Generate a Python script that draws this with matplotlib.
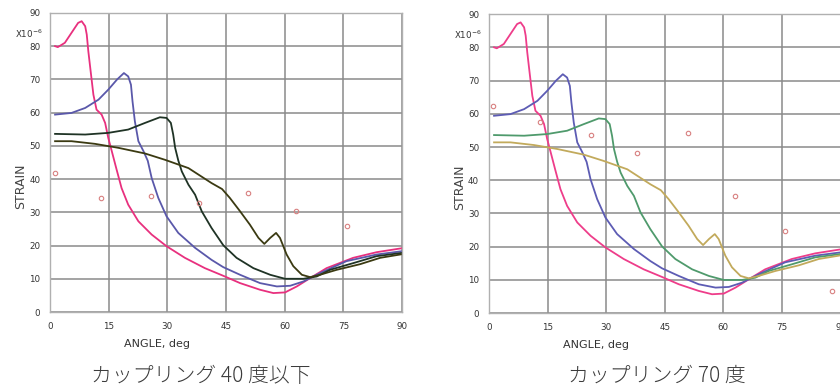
import numpy as np
import matplotlib
matplotlib.use('Agg')
import matplotlib.pyplot as plt
from matplotlib import font_manager

# Curve data (angle in deg, strain x1e-6)
pink_x = [1.3, 2.0, 3.8, 5.5, 7.2, 8.1, 9.0, 9.4, 9.8, 10.5, 11.1, 11.9, 13.2, 14.1, 14.9, 15.8,
          17.0, 18.3, 20.0, 22.6, 26.0, 29.8, 34.5, 39.6, 44.3, 48.6, 53.7, 57.1, 60.1, 63.1,
          66.5, 70.7, 77.5, 83.5, 90.0]
pink_y = [80.0, 79.7, 81.0, 84.0, 87.0, 87.5, 86.0, 83.5, 78.5, 71.4, 65.4, 60.9, 59.4, 56.9, 52.4, 48.4,
          43.0, 37.3, 32.3, 27.3, 23.3, 19.8, 16.3, 13.2, 10.9, 8.7, 6.7, 5.7, 5.9, 7.7,
          10.2, 13.2, 16.3, 18.0, 19.2]

blue_x = [1.3, 5.5, 9.0, 12.4, 14.9, 17.1, 18.9, 20.0, 20.7, 21.1, 21.7, 22.6, 23.9, 25.0,
          26.0, 27.7, 29.8, 32.8, 37.1, 41.3, 44.3, 48.6, 53.7, 58.0, 61.4, 64.8, 69.0, 75.8,
          83.5, 90.0]
blue_y = [59.4, 59.9, 61.4, 63.9, 66.9, 69.9, 71.9, 70.9, 68.4, 63.4, 57.4, 51.4, 48.4, 45.5,
          40.3, 34.3, 28.8, 23.8, 19.3, 15.7, 13.5, 11.2, 8.7, 7.7, 7.9, 9.2, 11.7, 15.3,
          17.3, 18.3]

green_x = [1.3, 9.0, 14.9, 20.0, 24.3, 28.1, 29.8, 30.9, 31.5, 32.0, 32.8, 33.7, 35.4, 37.1,
           38.8, 41.3, 44.3, 47.7, 52.0, 56.3, 60.1, 64.8, 68.2, 71.6, 77.5, 83.5, 90.0]
green_y = [53.6, 53.4, 53.9, 54.9, 56.9, 58.6, 58.4, 56.9, 53.4, 49.4, 45.6, 42.3, 38.3, 35.3,
           30.3, 25.3, 20.1, 16.3, 13.2, 11.2, 10.0, 10.0, 10.7, 12.7, 14.7, 16.8, 17.8]

olive_x = [1.3, 5.5, 11.5, 17.5, 24.3, 29.4, 35.4, 41.3, 44.0, 46.0, 48.6, 51.1, 53.3, 54.8,
           56.3, 57.8, 58.8, 60.5, 62.2, 64.4, 66.5, 69.0, 73.3, 79.3, 84.4, 90.0]
olive_y = [51.4, 51.4, 50.6, 49.4, 47.7, 45.8, 43.3, 38.8, 37.0, 34.3, 30.3, 26.3, 22.3, 20.5,
           22.3, 23.8, 22.3, 17.3, 13.8, 11.2, 10.5, 11.2, 12.7, 14.4, 16.3, 17.4]

# measured points (circles)
pts40_x = [1.3, 13.0, 25.8, 38.1, 50.7, 62.9, 75.9]
pts40_y = [41.8, 34.4, 34.9, 32.9, 35.7, 30.5, 25.9]
pts70_x = [1.1, 13.1, 26.1, 38.0, 50.9, 63.0, 75.8, 87.9]
pts70_y = [62.3, 57.5, 53.7, 48.1, 54.2, 35.2, 24.7, 6.6]

titles = ['カップリング 40 度以下', 'カップリング 70 度']
xticks = [0, 15, 30, 45, 60, 75, 90]
yticks = [0, 10, 20, 30, 40, 50, 60, 70, 80, 90]

names = [f.name for f in font_manager.fontManager.ttflist]
narrow = 'Liberation Sans Narrow' if 'Liberation Sans Narrow' in names else 'DejaVu Sans'
plt.rcParams['font.family'] = [narrow, 'DejaVu Sans']

fig = plt.figure(figsize=(8.4, 3.91), dpi=100)
ax1 = fig.add_axes([0.0595, 0.202, 0.4191, 0.765])
ax2 = fig.add_axes([0.5821, 0.199, 0.4186, 0.765])

cols_left = ['#e8307e', '#5a58aa', '#1f3325', '#3b3a12']
cols_right = ['#ee3d8a', '#5d5cb4', '#4f9a6c', '#c2aa5c']

for ax, cols, px, py in [(ax1, cols_left, pts40_x, pts40_y), (ax2, cols_right, pts70_x, pts70_y)]:
    ax.plot(pink_x, pink_y, color=cols[0], lw=1.3)
    ax.plot(blue_x, blue_y, color=cols[1], lw=1.3)
    ax.plot(green_x, green_y, color=cols[2], lw=1.3)
    ax.plot(olive_x, olive_y, color=cols[3], lw=1.3)
    ax.plot(px, py, 'o', ms=3.2, mfc='none', mec='#d88080', mew=0.8)
    ax.set_xlim(0, 90)
    ax.set_ylim(0, 90)
    ax.set_xticks(xticks)
    ax.set_yticks(yticks)
    ax.grid(True, color='#8a8a8a', lw=1.1)
    ax.set_axisbelow(True)
    for s in ax.spines.values():
        s.set_color('#b0b0b0')
        s.set_linewidth(1.0)
    ax.tick_params(length=0, labelsize=6.3, colors='#333333', pad=7)
    ax.set_xlabel('ANGLE, deg', fontsize=8, color='#333333')
    ax.xaxis.set_label_coords(0.305, -0.09)
    ax.set_ylabel('STRAIN', fontsize=9, color='#444444')
    ax.yaxis.set_label_coords(-0.065, 0.42)
    ax.text(-0.1, 0.93, 'X10$^{-6}$', transform=ax.transAxes, fontsize=6.3, color='#333333',
            ha='left', va='center')

cjk = ['Noto Sans CJK JP', 'DejaVu Sans']
fig.text(201 / 840, 1 - 376 / 391, titles[0], ha='center', va='center', fontsize=15,
         color='#3c3c3c', family=cjk, fontweight='light')
fig.text(657 / 840, 1 - 376 / 391, titles[1], ha='center', va='center', fontsize=15,
         color='#3c3c3c', family=cjk, fontweight='light')

fig.savefig('out.png', dpi=100)
